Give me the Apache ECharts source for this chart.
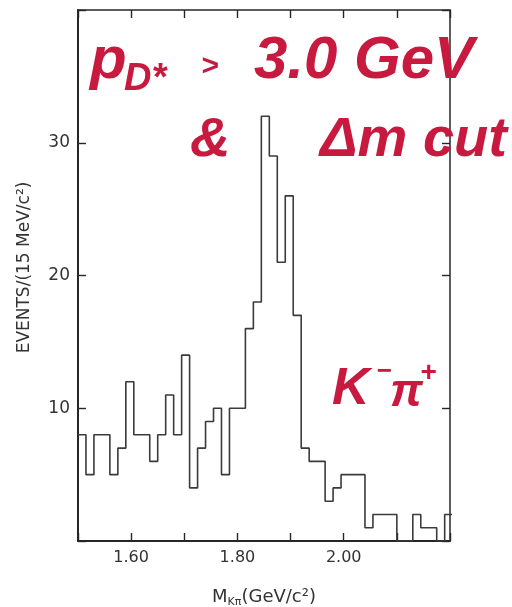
<!DOCTYPE html>
<html>
<head>
<meta charset="utf-8">
<script src="https://cdn.jsdelivr.net/npm/echarts@6/dist/echarts.min.js"></script>
<style>
  html, body { margin: 0; padding: 0; background: #fff; }
  #chart { width: 512px; height: 607px; }
</style>
</head>
<body>
<div id="chart"></div>
<script>
// K-pi invariant mass histogram, 15 MeV bins starting at 1.50 GeV
const BIN_START = 1.5;
const BIN_WIDTH = 0.015;
const counts = [
  8, 5, 8, 8, 5, 7, 12, 8, 8, 6,
  8, 11, 8, 14, 4, 7, 9, 10, 5, 10,
  10, 16, 18, 32, 29, 21, 26, 17, 7, 6,
  6, 3, 4, 5, 5, 5, 1, 2, 2, 2,
  0, 0, 2, 1, 1, 0, 2
];
const xTickLabels = ['1.60', '1.80', '2.00'];
const yTickLabels = ['10', '20', '30'];

// step outline: each point is a bin's left edge, plus the closing right edge
const stepPoints = counts.map((c, i) => [BIN_START + i * BIN_WIDTH, c]);
stepPoints.push([BIN_START + counts.length * BIN_WIDTH, counts[counts.length - 1]]);

const INK = '#262626';
const RED = '#c8193f';
const axisFont = '"DejaVu Sans", sans-serif';
const noteFont = '"Liberation Sans", Arial, sans-serif';

const tickStyle = { show: true, inside: true, length: 8, lineStyle: { color: INK, width: 1.4 } };

const chart = echarts.init(document.getElementById('chart'));
chart.setOption({
  animation: false,
  backgroundColor: '#fff',
  grid: { left: 78, right: 62, top: 10, bottom: 66, outerBoundsMode: 'none', containLabel: false },
  xAxis: [
    {
      type: 'value', position: 'bottom', min: 1.5, max: 2.2, interval: 0.1,
      axisLine: { show: true, onZero: false, lineStyle: { color: INK, width: 2 } },
      axisTick: tickStyle,
      splitLine: { show: false },
      axisLabel: {
        color: '#333', fontFamily: axisFont, fontSize: 16, margin: 9,
        formatter: v => xTickLabels.includes(v.toFixed(2)) ? v.toFixed(2) : ''
      },
      name: '{m|M}{s|Kπ}{m|(GeV/c²)}',
      nameLocation: 'middle', nameGap: 45,
      nameTextStyle: {
        rich: {
          m: { fontFamily: axisFont, fontSize: 18, color: '#333', lineHeight: 22 },
          s: { fontFamily: axisFont, fontSize: 11, color: '#333', lineHeight: 11, verticalAlign: 'bottom' }
        }
      }
    },
    {
      type: 'value', position: 'top', min: 1.5, max: 2.2, interval: 0.1,
      axisLine: { show: true, onZero: false, lineStyle: { color: INK, width: 1.5 } },
      axisTick: tickStyle,
      axisLabel: { show: false },
      splitLine: { show: false }
    }
  ],
  yAxis: [
    {
      type: 'value', position: 'left', min: 0, max: 40, interval: 10,
      axisLine: { show: true, onZero: false, lineStyle: { color: INK, width: 2 } },
      axisTick: tickStyle,
      splitLine: { show: false },
      axisLabel: {
        color: '#333', fontFamily: axisFont, fontSize: 17, margin: 8,
        formatter: v => yTickLabels.includes(String(v)) ? String(v) : ''
      },
      name: 'EVENTS/(15 MeV/c²)',
      nameLocation: 'middle', nameGap: 45, nameRotate: 90,
      nameTextStyle: { color: '#333', fontFamily: axisFont, fontSize: 17, padding: [0, 0, 0, 16] }
    },
    {
      type: 'value', position: 'right', min: 0, max: 40, interval: 10,
      axisLine: { show: true, onZero: false, lineStyle: { color: INK, width: 1.5 } },
      axisTick: tickStyle,
      axisLabel: { show: false },
      splitLine: { show: false }
    }
  ],
  series: [{
    type: 'line',
    xAxisIndex: 0, yAxisIndex: 0,
    step: 'end',
    data: stepPoints,
    symbol: 'none',
    clip: true,
    lineStyle: { color: '#3a3a3a', width: 1.6 }
  }],
  graphic: [
    // first line: p_D* > 3.0 GeV
    { type: 'text', z: 100, style: { text: 'p', x: 90, y: 61, verticalAlign: 'middle',
      font: 'italic bold 60px ' + noteFont, fill: RED } },
    { type: 'text', z: 100, style: { text: 'D*', x: 124, y: 80, verticalAlign: 'middle',
      font: 'italic bold 38px ' + noteFont, fill: RED } },
    { type: 'text', z: 100, style: { text: '>', x: 201, y: 67, verticalAlign: 'middle',
      font: 'italic bold 30px ' + noteFont, fill: RED } },
    { type: 'text', z: 100, style: { text: '3.0 GeV', x: 254, y: 61, verticalAlign: 'middle',
      font: 'italic bold 60px ' + noteFont, fill: RED } },
    // second line: & Δm cut
    { type: 'text', z: 100, style: { text: '&', x: 190, y: 141, verticalAlign: 'middle',
      font: 'italic bold 56px ' + noteFont, fill: RED } },
    { type: 'text', z: 100, style: { text: 'Δm cut', x: 320, y: 141, verticalAlign: 'middle',
      font: 'italic bold 56px ' + noteFont, fill: RED } },
    // decay mode label
    { type: 'text', z: 100, style: { text: 'K', x: 332, y: 390, verticalAlign: 'middle',
      font: 'italic bold 52px ' + noteFont, fill: RED } },
    { type: 'text', z: 100, style: { text: '−', x: 376, y: 372, verticalAlign: 'middle',
      font: 'italic bold 26px ' + noteFont, fill: RED } },
    { type: 'text', z: 100, style: { text: 'π', x: 390, y: 393, verticalAlign: 'middle',
      font: 'italic bold 46px ' + noteFont, fill: RED } },
    { type: 'text', z: 100, style: { text: '+', x: 420, y: 373, verticalAlign: 'middle',
      font: 'italic bold 28px ' + noteFont, fill: RED } }
  ]
});
</script>
</body>
</html>
